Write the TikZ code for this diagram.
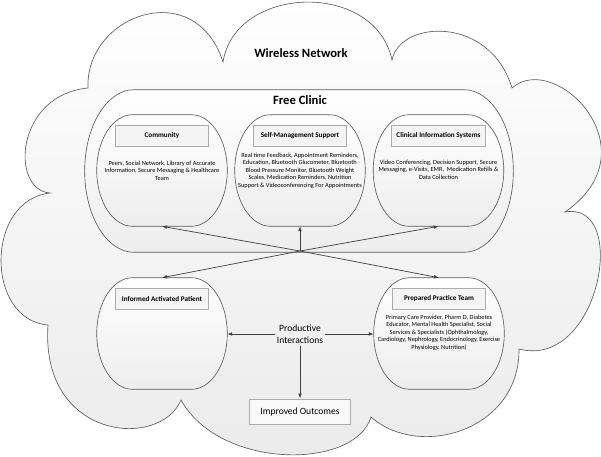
\documentclass[tikz,border=0pt]{standalone}
\usepackage{fontspec}
\setmainfont{Carlito}
\usetikzlibrary{calc,arrows.meta}

\tikzset{
  cloudline/.style={draw=gray!70!black, line width=0.45pt, top color=white, bottom color=gray!16},
  pillline/.style={draw=gray!70!black, line width=0.45pt, top color=white, bottom color=gray!14},
  region/.style={minimum width=3.25cm, minimum height=2.775cm, inner sep=0pt},
  titlebox/.style={draw=gray!65, line width=0.7pt, fill=gray!9, minimum width=2.325cm,
    minimum height=0.525cm, inner sep=1pt, font=\fontsize{5.1}{6}\selectfont\bfseries},
  body/.style={align=center, inner sep=0pt, font=\fontsize{4.5}{5.3}\selectfont},
  big/.style={font=\fontsize{9}{11}\selectfont\bfseries},
  mid/.style={align=center, inner sep=1.5pt, font=\fontsize{6.8}{8.5}\selectfont},
  outbox/.style={draw=gray!65, line width=0.7pt, fill=gray!5, minimum width=2.5cm,
    minimum height=0.625cm, font=\fontsize{6.8}{8.5}\selectfont},
  arr/.style={draw=black!75, line width=0.5pt, -{Latex[length=3.5pt,width=2.6pt]}}
}

% rounded box with elliptic corners round a node, #2 = share of the half width
\newcommand{\pill}[2]{%
  \coordinate (#1-tl) at ($(#1.north west)!#2!(#1.north)$);
  \coordinate (#1-tr) at ($(#1.north east)!#2!(#1.north)$);
  \coordinate (#1-br) at ($(#1.south east)!#2!(#1.south)$);
  \coordinate (#1-bl) at ($(#1.south west)!#2!(#1.south)$);
  \draw[pillline] (#1.west)
    .. controls ($(#1.west)!0.552!(#1.north west)$) and ($(#1-tl)!0.552!(#1.north west)$) .. (#1-tl)
    -- (#1-tr)
    .. controls ($(#1-tr)!0.552!(#1.north east)$) and ($(#1.east)!0.552!(#1.north east)$) .. (#1.east)
    .. controls ($(#1.east)!0.552!(#1.south east)$) and ($(#1-br)!0.552!(#1.south east)$) .. (#1-br)
    -- (#1-bl)
    .. controls ($(#1-bl)!0.552!(#1.south west)$) and ($(#1.west)!0.552!(#1.south west)$) .. cycle;}

\begin{document}
\begin{tikzpicture}[x=0.025cm, y=-0.025cm]

\useasboundingbox (0,0) rectangle (601,456);

% the cloud
\draw[cloudline] (88,88)
  .. controls (85,15) and (195,-25) .. (223,62)
  .. controls (235,-15) and (375,-20) .. (392,60)
  .. controls (400,20) and (490,15) .. (512,88)
  .. controls (555,50) and (655,150) .. (565,212)
  .. controls (630,200) and (600,370) .. (519,349)
  .. controls (520,430) and (420,460) .. (371,417)
  .. controls (355,470) and (220,470) .. (181,400)
  .. controls (160,450) and (40,440) .. (48,325)
  .. controls (-15,320) and (-15,200) .. (50,193)
  .. controls (10,190) and (15,95) .. cycle;

\node[big] (net) at (301,53) {Wireless Network};

% the free clinic
\node[minimum width=10.7cm, minimum height=4.05cm, inner sep=0pt] (clinic) at (299,171) {};
\pill{clinic}{0.23}
\node[big] (clinictxt) at (300,100) {Free Clinic};

% the five parts
\node[region] (com) at (162,170.5) {};
\node[region] (sms) at (300,170.5) {};
\node[region] (cis) at (438.5,170.5) {};
\node[region] (pat) at (162,333.5) {};
\node[region] (team) at (439,333.5) {};
\pill{com}{0.55}
\pill{sms}{0.55}
\pill{cis}{0.55}
\pill{pat}{0.55}
\pill{team}{0.55}

\node[titlebox] (comt) at ($(com.center)+(0,-35)$) {Community};
\node[titlebox] (smst) at ($(sms.center)+(0,-35)$) {Self-Management Support};
\node[titlebox] (cist) at ($(cis.center)+(0,-35)$) {Clinical Information Systems};
\node[titlebox] (patt) at ($(pat.center)+(0,-34.5)$) {Informed Activated Patient};
\node[titlebox] (teamt) at ($(team.center)+(0,-34.5)$) {Prepared Practice Team};

\node[body] (comb) at (com.center) {Peers, Social Network, Library of Accurate\\
  Information, Secure Messaging \& Healthcare\\ Team};
\node[body] (smsb) at (sms.center) {Real time Feedback, Appointment Reminders,\\
  Education, Bluetooth Glucometer, Bluetooth\\ Blood Pressure Monitor, Bluetooth Weight\\
  Scales, Medication Reminders, Nutrition\\ Support \& Videoconferencing For Appointments};
\node[body] (cisb) at ($(cis.center)+(0,-1)$) {Video Conferencing, Decision Support, Secure\\
  Messaging, e-Visits, EMR,~ Medication Refills \&\\ Data Collection};
\node[body] (teamb) at ($(team.center)+(0,-1)$) {Primary Care Provider, Pharm D, Diabetes\\
  Educator, Mental Health Specialist, Social\\ Services \& Specialists (Ophthalmology,\\
  Cardiology, Nephrology, Endocrinology, Exercise\\ Physiology, Nutrition)};

% links
\coordinate (hub) at (300,251);
\draw[arr] (hub) -- (com.south);
\draw[arr] (hub) -- (sms.south);
\draw[arr] (hub) -- (cis.south);
\draw[arr] (hub) -- (pat.north);
\draw[arr] (hub) -- (team.north);

\node[mid] (prod) at (300,334) {Productive\\ Interactions};
\node[outbox] (out) at (300,411.5) {Improved Outcomes};

\draw[arr] (prod.west) -- (prod.west -| pat.east);
\draw[arr] (prod.east) -- (prod.east -| team.west);
\draw[arr] (prod.south) -- (out.north);

\end{tikzpicture}
\end{document}
